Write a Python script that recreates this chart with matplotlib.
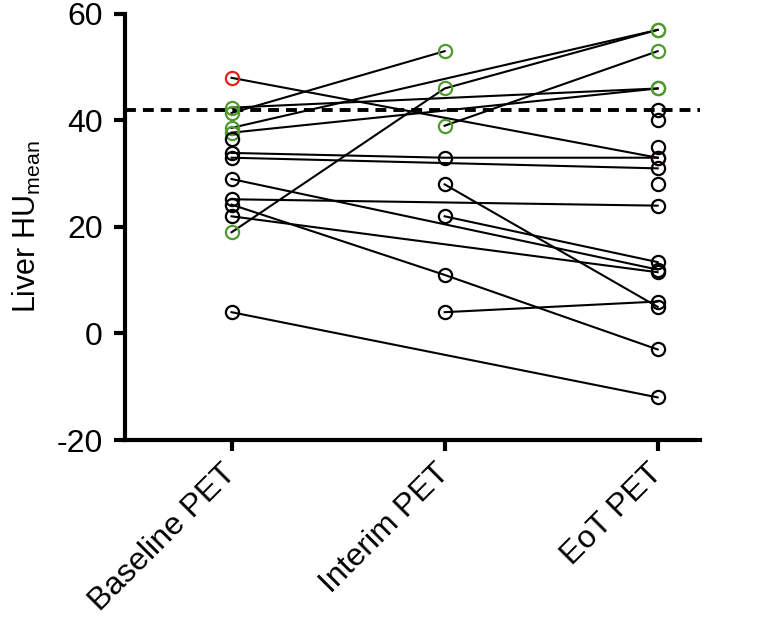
import numpy as np
import matplotlib.pyplot as plt

plt.rcParams['font.family'] = ['Liberation Sans', 'DejaVu Sans']
plt.rcParams['mathtext.fontset'] = 'custom'
plt.rcParams['mathtext.rm'] = 'Liberation Sans'
plt.rcParams['mathtext.it'] = 'Liberation Sans'
plt.rcParams['axes.unicode_minus'] = False

timepoints = ["Baseline PET", "Interim PET", "EoT PET"]

# one entry per patient, nan = no scan at that time point
baseline = [41.4, 42.4, 37.7, 38.6, 19, np.nan, 48, 36.6, 33.9, 33, 29, 25.2, 24.2, 22, 4,
            np.nan, np.nan, np.nan, np.nan, np.nan, np.nan, np.nan]
interim = [53, np.nan, np.nan, np.nan, 46, 39, np.nan, np.nan, 33, np.nan, np.nan, np.nan, 11, np.nan, np.nan,
           28, 22, 4, np.nan, np.nan, np.nan, np.nan]
eot = [np.nan, 46, 46, 57, 57, 53, 33, np.nan, 33, 31, 12, 24, -3, 11.5, -12,
       5, 13.4, 6, 42, 40, 35, 28]
group = ["g", "g", "g", "g", "g", "g", "r", "k", "k", "k", "k", "k", "k", "k", "k",
         "k", "k", "k", "k", "k", "k", "k"]
threshold = 42

colors = {"g": "#4f9a2c", "r": "#e3201b", "k": "black"}

fig = plt.figure(figsize=(7.67, 6.23), dpi=100)
ax = fig.add_axes([0.163, 0.2937, 0.75, 0.684])

x = np.arange(len(timepoints))
vals = np.array([baseline, interim, eot], dtype=float).T

for row in vals:
    ok = ~np.isnan(row)
    ax.plot(x[ok], row[ok], color="black", lw=1.5, zorder=2)

for row, g in zip(vals, group):
    ok = ~np.isnan(row)
    ax.plot(x[ok], row[ok], ls="none", marker="o", ms=9.5, mfc="none",
            mec=colors[g], mew=1.6, zorder=3)

ax.axhline(threshold, color="black", lw=2.8, ls=(0, (2.8, 1.8)), zorder=1)

ax.set_xlim(-0.5, 2.2)
ax.set_ylim(-20, 60)
ax.set_yticks([-20, 0, 20, 40, 60])
ax.set_xticks(x)
ax.set_xticklabels(timepoints, rotation=45, ha="right", va="center",
                   rotation_mode="anchor")

for s in ["top", "right"]:
    ax.spines[s].set_visible(False)
for s in ["left", "bottom"]:
    ax.spines[s].set_linewidth(3)
ax.tick_params(axis="both", direction="out", length=8, width=3, labelsize=23)
ax.tick_params(axis="y", pad=8)
ax.tick_params(axis="x", pad=13)

ax.set_ylabel("Liver HU$_{\\mathrm{mean}}$", fontsize=22, labelpad=10)

fig.savefig("out.png", dpi=100)
